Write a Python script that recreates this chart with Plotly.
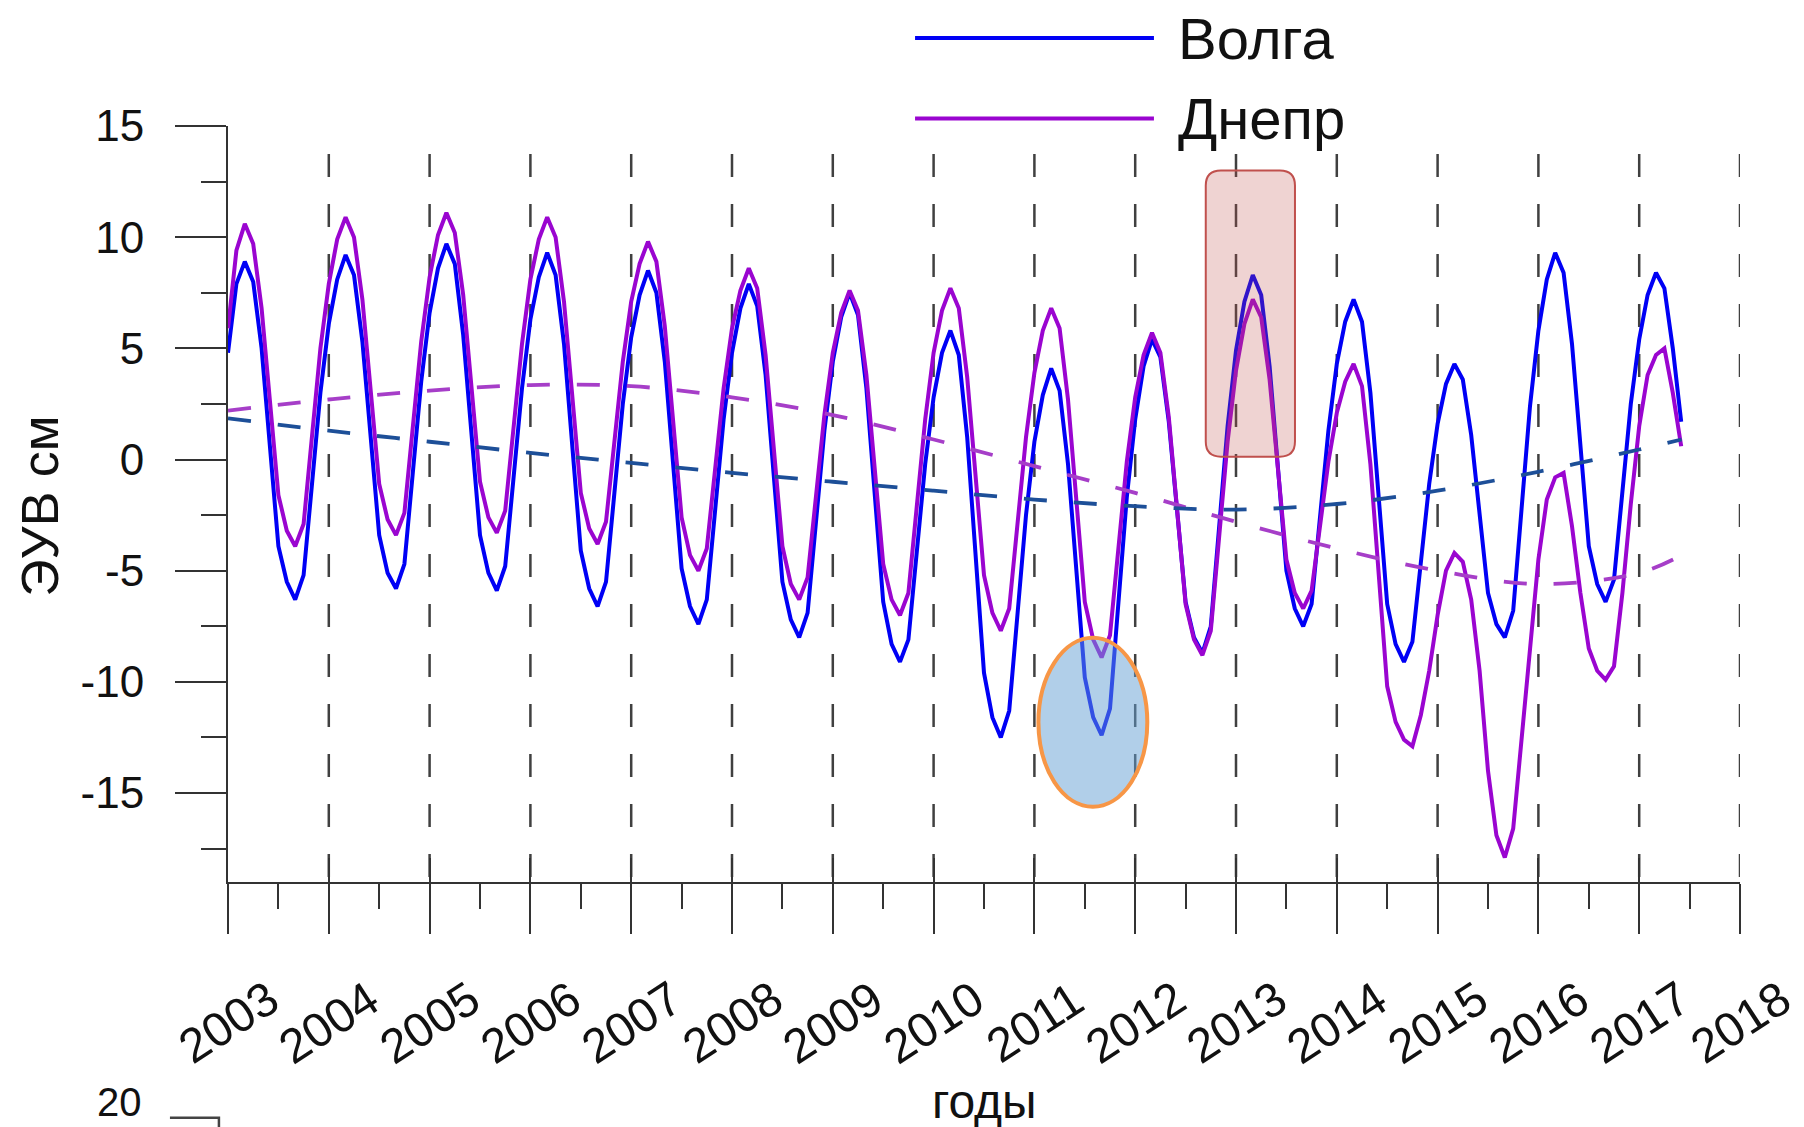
import plotly.graph_objects as go

# ---------------- data (monthly, Jan 2003 .. Jun 2017) ----------------
start_year = 2003
volga = [
    4.8, 7.9, 8.9, 8.0, 5.0, 0.4, -3.9, -5.5, -6.3, -5.2, -1.2, 3.0,      # 2003
    6.1, 8.1, 9.2, 8.3, 5.3, 0.8, -3.4, -5.1, -5.8, -4.7, -0.7, 3.5,      # 2004
    6.6, 8.6, 9.7, 8.8, 5.6, 1.0, -3.4, -5.1, -5.9, -4.8, -0.9, 3.2,      # 2005
    6.3, 8.2, 9.3, 8.3, 5.2, 0.4, -4.1, -5.8, -6.6, -5.5, -1.6, 2.5,      # 2006
    5.5, 7.4, 8.5, 7.5, 4.4, -0.4, -4.9, -6.6, -7.4, -6.3, -2.4, 1.8,     # 2007
    4.8, 6.8, 7.9, 6.9, 3.8, -1.0, -5.5, -7.2, -8.0, -6.9, -2.9, 1.3,     # 2008
    4.4, 6.4, 7.5, 6.5, 3.2, -1.8, -6.4, -8.3, -9.1, -8.1, -4.2, -0.2,    # 2009
    2.8, 4.8, 5.8, 4.7, 1.0, -4.4, -9.6, -11.6, -12.5, -11.3, -7.0, -2.5, # 2010
    0.8, 2.9, 4.1, 3.1, -0.2, -5.1, -9.8, -11.6, -12.4, -11.2, -6.5, -1.7,# 2011
    1.8, 4.2, 5.4, 4.6, 1.7, -2.5, -6.4, -8.0, -8.7, -7.5, -3.1, 1.5,     # 2012
    4.9, 7.1, 8.3, 7.4, 4.2, -0.6, -5.0, -6.7, -7.5, -6.5, -2.6, 1.3,     # 2013
    4.3, 6.2, 7.2, 6.2, 3.0, -1.9, -6.5, -8.3, -9.1, -8.2, -4.7, -1.1,    # 2014
    1.6, 3.4, 4.3, 3.6, 1.1, -2.6, -6.0, -7.4, -8.0, -6.8, -2.3, 2.4,     # 2015
    5.8, 8.1, 9.3, 8.4, 5.2, 0.5, -3.9, -5.6, -6.4, -5.4, -1.5, 2.5,      # 2016
    5.4, 7.4, 8.4, 7.7, 5.0, 1.7,                                         # 2017
]
dnepr = [
    5.9, 9.4, 10.6, 9.7, 6.8, 2.5, -1.6, -3.2, -3.9, -2.9, 1.0, 5.0,      # 2003
    7.9, 9.9, 10.9, 10.0, 7.2, 2.9, -1.1, -2.7, -3.4, -2.4, 1.4, 5.3,     # 2004
    8.2, 10.1, 11.1, 10.2, 7.4, 3.0, -1.0, -2.6, -3.3, -2.3, 1.4, 5.2,    # 2005
    8.1, 9.9, 10.9, 10.0, 7.1, 2.7, -1.5, -3.1, -3.8, -2.8, 0.7, 4.4,     # 2006
    7.1, 8.8, 9.8, 8.9, 6.0, 1.5, -2.6, -4.3, -5.0, -4.0, -0.5, 3.2,      # 2007
    5.9, 7.6, 8.6, 7.7, 4.7, 0.3, -3.9, -5.6, -6.3, -5.3, -1.7, 2.0,      # 2008
    4.8, 6.6, 7.6, 6.7, 3.8, -0.6, -4.7, -6.3, -7.0, -6.0, -2.1, 1.8,     # 2009
    4.8, 6.7, 7.7, 6.8, 3.7, -0.9, -5.2, -6.9, -7.7, -6.7, -2.9, 1.0,     # 2010
    3.9, 5.8, 6.8, 5.9, 2.7, -2.0, -6.4, -8.1, -8.9, -7.9, -4.1, -0.1,    # 2011
    2.8, 4.7, 5.7, 4.8, 1.9, -2.4, -6.5, -8.1, -8.8, -7.7, -3.5, 0.8,     # 2012
    4.0, 6.1, 7.2, 6.4, 3.6, -0.6, -4.5, -6.0, -6.7, -5.9, -3.1, -0.1,    # 2013
    2.1, 3.5, 4.3, 3.3, -0.2, -5.3, -10.2, -11.8, -12.6, -12.9, -11.5, -9.5,  # 2014
    -7.0, -5.0, -4.2, -4.6, -6.3, -9.5, -14.0, -16.9, -17.9, -16.6, -12.5, -8.6, # 2015
    -4.5, -1.8, -0.8, -0.6, -3.0, -6.0, -8.5, -9.5, -9.9, -9.3, -6.0, -2.0,  # 2016
    1.5, 3.8, 4.7, 5.0, 3.0, 0.6,                                         # 2017
]

trend_years = [2003, 2004, 2005, 2006, 2007, 2008, 2009, 2010, 2011, 2012,
               2013, 2014, 2015, 2016, 2017, 2017.42]
volga_trend = [1.85, 1.3, 0.8, 0.3, -0.15, -0.6, -1.0, -1.4, -1.8, -2.1,
               -2.25, -2.0, -1.4, -0.55, 0.45, 0.9]
dnepr_trend = [2.2, 2.7, 3.1, 3.35, 3.3, 2.8, 2.0, 0.9, -0.3, -1.5,
               -2.8, -4.0, -5.0, -5.6, -5.1, -4.3]

year_ticks = list(range(2003, 2019))
grid_years = list(range(2004, 2019))
y_tick_vals = [-15, -10, -5, 0, 5, 10, 15]
y_tick_text = ["-15", "-10", "-5", "0", "5", "10", "15"]
series_names = ["Волга", "Днепр"]

# ---------------- styling ----------------
FONT = "Liberation Sans, Arial, sans-serif"
C_VOLGA = "#0000f5"
C_DNEPR = "#9a05d0"
C_VOLGA_TR = "#1d4f98"
C_DNEPR_TR = "#a63ec8"
AX = "#333333"
Y_MIN, Y_MAX = -19, 15
X_MIN, X_MAX = 2003, 2018

t = [start_year + i / 12 for i in range(len(volga))]
t2 = [start_year + i / 12 for i in range(len(dnepr))]

fig = go.Figure()
fig.add_trace(go.Scatter(x=t, y=volga, mode="lines", name=series_names[0],
                         line=dict(color=C_VOLGA, width=4), showlegend=False))
fig.add_trace(go.Scatter(x=t2, y=dnepr, mode="lines", name=series_names[1],
                         line=dict(color=C_DNEPR, width=4), showlegend=False))
fig.add_trace(go.Scatter(x=trend_years, y=dnepr_trend, mode="lines",
                         line=dict(color=C_DNEPR_TR, width=3.8, dash="23px,27px", shape="spline"),
                         showlegend=False, hoverinfo="skip"))
fig.add_trace(go.Scatter(x=trend_years, y=volga_trend, mode="lines",
                         line=dict(color=C_VOLGA_TR, width=3.8, dash="23px,27px", shape="spline"),
                         showlegend=False, hoverinfo="skip"))
# dummy trace for the overlay axis that carries the upward half of the year ticks
fig.add_trace(go.Scatter(x=[], y=[], xaxis="x2", showlegend=False, hoverinfo="skip"))

shapes = []
# dashed vertical year grid
for yr in grid_years:
    shapes.append(dict(type="line", xref="x", yref="y", x0=yr, x1=yr, y0=13.74, y1=Y_MIN,
                       line=dict(color="rgba(30,30,30,0.85)", width=2.5, dash="23px,27px"),
                       layer="below"))

# rounded red highlight box
bx0, bx1, by0, by1 = 2012.70, 2013.585, 0.13, 13.0
rx, ry = 0.15, 0.68
path = (f"M {bx0+rx},{by1} L {bx1-rx},{by1} Q {bx1},{by1} {bx1},{by1-ry} "
        f"L {bx1},{by0+ry} Q {bx1},{by0} {bx1-rx},{by0} L {bx0+rx},{by0} "
        f"Q {bx0},{by0} {bx0},{by0+ry} L {bx0},{by1-ry} Q {bx0},{by1} {bx0+rx},{by1} Z")
shapes.append(dict(type="path", xref="x", yref="y", path=path,
                   fillcolor="rgba(192,80,77,0.25)", line=dict(color="#c0504d", width=2),
                   layer="above"))
# ellipse highlight
shapes.append(dict(type="circle", xref="x", yref="y", x0=2011.04, x1=2012.12, y0=-15.62, y1=-8.02,
                   fillcolor="rgba(100,160,212,0.5)", line=dict(color="#f79646", width=4),
                   layer="above"))

# custom legend lines
leg_x0, leg_x1 = 0.4544, 0.6124
leg_y = [1.1164, 1.0099]
for col, ly in zip([C_VOLGA, C_DNEPR], leg_y):
    shapes.append(dict(type="line", xref="paper", yref="paper", x0=leg_x0, x1=leg_x1, y0=ly, y1=ly,
                       line=dict(color=col, width=4)))

# fragment of the next chart at the bottom-left
shapes.append(dict(type="path", xref="paper", yref="paper",
                   path="M -0.0384,-0.312 L -0.006,-0.312 L -0.006,-0.33",
                   line=dict(color="#444444", width=2.5)))

annotations = []
for name, ly in zip(series_names, leg_y):
    annotations.append(dict(text=name, xref="paper", yref="paper", x=0.627, y=ly,
                            xanchor="left", yanchor="middle", showarrow=False,
                            font=dict(family=FONT, size=58, color="#111111")))
# rotated year labels
for yr in year_ticks:
    annotations.append(dict(text=str(yr), xref="x", yref="y", x=yr, y=Y_MIN, yshift=-140,
                            xanchor="center", yanchor="middle", textangle=-33, showarrow=False,
                            font=dict(family=FONT, size=48, color="#111111")))
annotations.append(dict(text="годы", xref="paper", yref="paper", x=0.5, y=-0.291,
                        xanchor="center", yanchor="middle", showarrow=False,
                        font=dict(family=FONT, size=48, color="#111111")))
annotations.append(dict(text="ЭУВ см", xref="paper", yref="paper", x=-0.124, y=0.497,
                        xanchor="center", yanchor="middle", textangle=-90, showarrow=False,
                        font=dict(family=FONT, size=52, color="#111111")))
annotations.append(dict(text="20", xref="paper", yref="paper", x=-0.0556, y=-0.323,
                        xanchor="right", yanchor="bottom", showarrow=False,
                        font=dict(family=FONT, size=40, color="#111111")))

fig.update_layout(
    width=1804, height=1127,
    margin=dict(l=228, r=64, t=126, b=245),
    paper_bgcolor="white", plot_bgcolor="white",
    font=dict(family=FONT, size=44, color="#111111"),
    shapes=shapes, annotations=annotations, showlegend=False,
    xaxis=dict(range=[X_MIN, X_MAX], showline=True, linecolor=AX, linewidth=2,
               ticks="outside", ticklen=50, tickwidth=2, tickcolor=AX,
               tickmode="linear", tick0=X_MIN, dtick=1, showticklabels=False,
               showgrid=False, zeroline=False,
               minor=dict(ticks="outside", ticklen=25, tickwidth=2, tickcolor=AX,
                          tickmode="linear", tick0=X_MIN, dtick=0.5, showgrid=False)),
    xaxis2=dict(range=[X_MIN, X_MAX], overlaying="x", anchor="y", side="bottom",
                ticks="inside", ticklen=24, tickwidth=2, tickcolor=AX,
                tickmode="linear", tick0=X_MIN, dtick=1, showticklabels=False,
                showline=False, showgrid=False, zeroline=False),
    yaxis=dict(range=[Y_MIN, Y_MAX], showline=True, linecolor=AX, linewidth=2,
               ticks="outside", ticklen=51, tickwidth=2, tickcolor=AX,
               tickmode="array", tickvals=y_tick_vals, ticktext=y_tick_text,
               ticklabelstandoff=22, tickfont=dict(family=FONT, size=44, color="#111111"),
               showgrid=False, zeroline=False,
               minor=dict(ticks="outside", ticklen=25, tickwidth=2, tickcolor=AX,
                          tickmode="linear", tick0=0, dtick=2.5, showgrid=False)),
)

fig.write_html("out.html")
